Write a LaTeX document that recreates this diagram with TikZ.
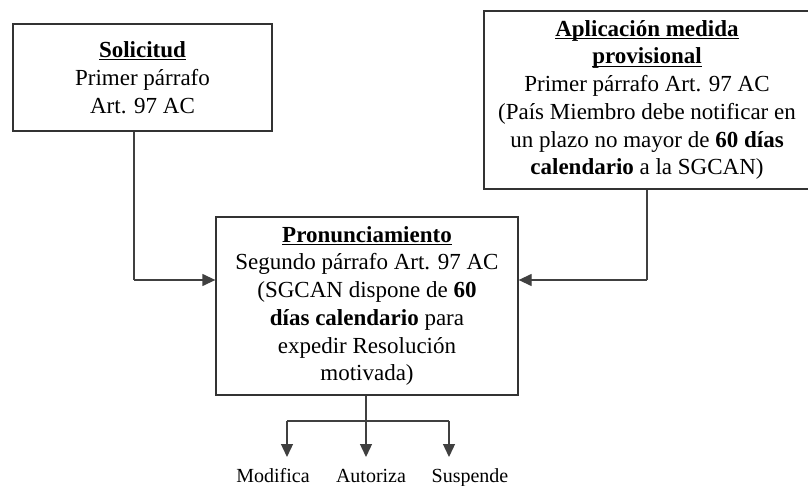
\documentclass[tikz,border=0pt]{standalone}
\usepackage{fontspec}
\setmainfont{Liberation Serif}
\usetikzlibrary{arrows.meta}
\newcommand{\myul}[1]{\setbox0\hbox{#1}\rlap{\rule[-2.8pt]{\wd0}{1.2pt}}\box0}
\begin{document}
\begin{tikzpicture}[x=1pt,y=-1pt,
  box/.style={draw=black!80,line width=1.3pt,inner sep=0pt,align=center,
    font=\fontsize{23}{27.7}\selectfont},
  conn/.style={draw=black!75,line width=1.3pt},
  arr/.style={conn,-{Triangle[length=13pt,width=12pt]}},
  lbl/.style={inner sep=0pt,anchor=base,font=\fontsize{20}{24}\selectfont}]
\useasboundingbox (0,0) rectangle (808,486);
\clip (0,0) rectangle (808,486);
\node[box,minimum width=259pt,minimum height=107pt] (sol) at (142.5,77.5)
  {\myul{\textbf{Solicitud}}\\Primer párrafo\\Art. 97 AC};
\node[box,minimum width=326pt,minimum height=178pt] (apl) at (647,100)
  {\myul{\textbf{Aplicación medida}}\\\myul{\textbf{provisional}}\\Primer párrafo Art. 97 AC\\(País Miembro debe notificar en\\un plazo no mayor de \textbf{60 días}\\\textbf{calendario} a la SGCAN)};
\node[box,minimum width=302pt,minimum height=178pt] (pro) at (367,306)
  {\myul{\textbf{Pronunciamiento}}\\Segundo párrafo Art. 97 AC\\(SGCAN dispone de \textbf{60}\\\textbf{días calendario} para\\expedir Resolución\\motivada)};
\node[lbl] (mod) at (273,482) {Modifica};
\node[lbl] (aut) at (371,482) {Autoriza};
\node[lbl] (sus) at (470,482) {Suspende};
\coordinate (lj) at (134,280);
\coordinate (rj) at (647,280);
\coordinate (bj) at (366,421);
\coordinate (m1) at (287,421);
\coordinate (s1) at (449,421);
\coordinate (m2) at (287,457);
\coordinate (a2) at (366,457);
\coordinate (s2) at (449,457);
\draw[conn] (sol.south -| lj) -- (lj);
\draw[arr] (lj) -- (pro.west |- lj);
\draw[conn] (apl.south -| rj) -- (rj);
\draw[arr] (rj) -- (pro.east |- rj);
\draw[conn] (pro.south -| bj) -- (bj);
\draw[conn] (m1) -- (s1);
\draw[arr] (m1) -- (m2);
\draw[arr] (bj) -- (a2);
\draw[arr] (s1) -- (s2);
\end{tikzpicture}
\end{document}
